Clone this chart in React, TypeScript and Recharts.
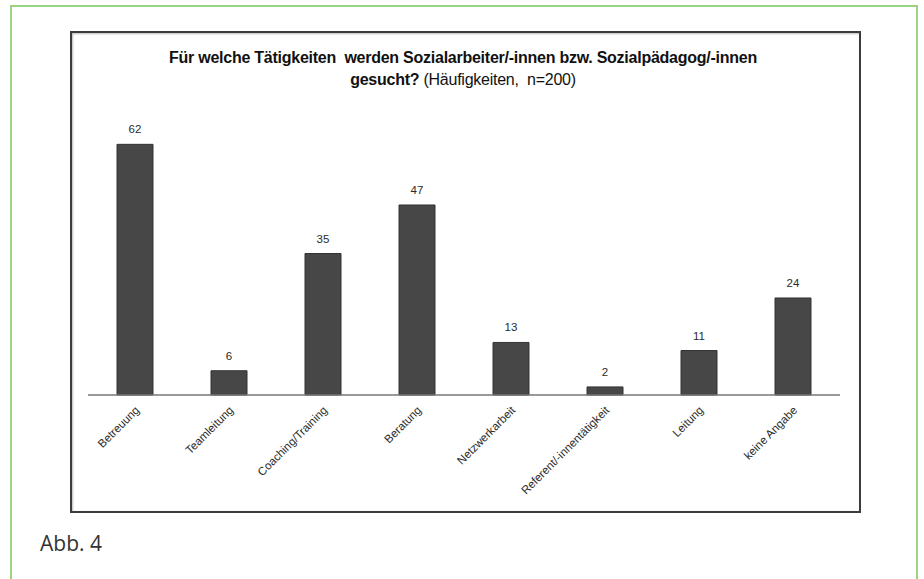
import React from "react";
import { BarChart, Bar, XAxis, YAxis, LabelList } from "recharts";

const categories = [
  "Betreuung",
  "Teamleitung",
  "Coaching/Training",
  "Beratung",
  "Netzwerkarbeit",
  "Referent/-innentätigkeit",
  "Leitung",
  "keine Angabe",
];
const values = [62, 6, 35, 47, 13, 2, 11, 24];
const titleLine1 = "Für welche Tätigkeiten  werden Sozialarbeiter/-innen bzw. Sozialpädagog/-innen";
const titleLine2Bold = "gesucht?";
const titleLine2Normal = " (Häufigkeiten,  n=200)";
const caption = "Abb. 4";

const data = categories.map((name, i) => ({ name, value: values[i] }));

const Tick = (props: any) => {
  const { x, y, payload } = props;
  return (
    <g transform={`translate(${x + 5},${y + 16})`}>
      <text
        transform="rotate(-45)"
        textAnchor="end"
        fontFamily="Liberation Sans, Arial, sans-serif"
        fontSize={11.5}
        fill="#2a2a2a"
      >
        {payload.value}
      </text>
    </g>
  );
};

export default function App() {
  return (
    <div
      style={{
        position: "absolute",
        left: 0,
        top: 0,
        width: 924,
        height: 579,
        background: "#fff",
        overflow: "hidden",
      }}
    >
      <div
        style={{
          position: "absolute",
          left: 10,
          top: 5,
          width: 908,
          height: 600,
          border: "2px solid #9ad47e",
          boxSizing: "border-box",
        }}
      />
      <div
        style={{
          position: "absolute",
          left: 70,
          top: 31,
          width: 791,
          height: 482,
          border: "2px solid #3c3c3c",
          boxShadow: "inset 1px 1px 2px #bbb",
          boxSizing: "border-box",
        }}
      />
      <div
        style={{
          position: "absolute",
          left: 0,
          width: 926,
          top: 47,
          textAlign: "center",
          fontFamily: "Liberation Sans, Arial, sans-serif",
          fontSize: 16,
          fontWeight: "bold",
          color: "#111",
          whiteSpace: "pre",
          lineHeight: "22px",
          letterSpacing: "-0.25px",
        }}
      >
        <div>{titleLine1}</div>
        <div>
          {titleLine2Bold}
          <span style={{ fontWeight: "normal" }}>{titleLine2Normal}</span>
        </div>
      </div>
      <div
        style={{
          position: "absolute",
          left: 40,
          top: 529,
          fontFamily: "Open Sans, Noto Sans, sans-serif",
          fontSize: 21,
          color: "#333",
        }}
      >
        {caption}
      </div>
      <div style={{ position: "absolute", left: 0, top: 0 }}>
        <BarChart
          width={924}
          height={579}
          data={data}
          margin={{ top: 112, right: 84, bottom: 0, left: 88 }}
          barSize={36}
        >
          <XAxis
            dataKey="name"
            axisLine={{ stroke: "#777", strokeWidth: 1.5 }}
            tickLine={false}
            tickSize={0}
            tickMargin={0}
            interval={0}
            tick={<Tick />}
            height={184}
          />
          <YAxis hide domain={[0, 70]} width={0} />
          <Bar
            dataKey="value"
            fill="#474747"
            stroke="#333"
            strokeWidth={1}
            isAnimationActive={false}
          >
            <LabelList
              dataKey="value"
              position="top"
              offset={11}
              fontFamily="Liberation Sans, Arial, sans-serif"
              fontSize={11.5}
              fill="#2a2a2a"
            />
          </Bar>
        </BarChart>
      </div>
    </div>
  );
}
